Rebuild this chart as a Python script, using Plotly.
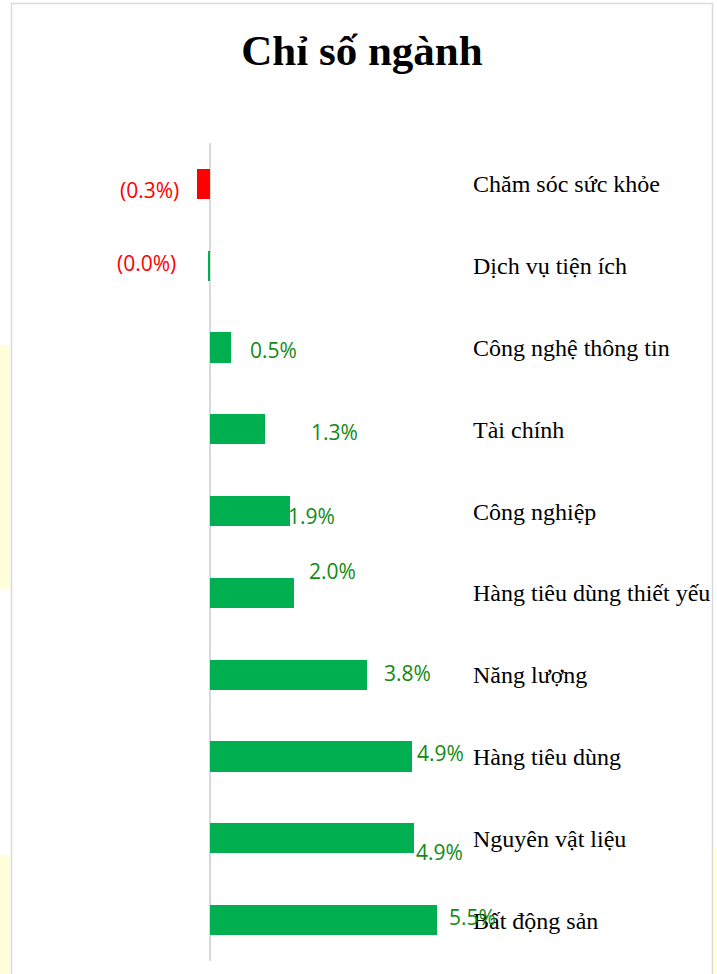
import plotly.graph_objects as go

# ---- data (top to bottom as shown) ----
categories = ["Chăm sóc sức khỏe", "Dịch vụ tiện ích", "Công nghệ thông tin", "Tài chính",
              "Công nghiệp", "Hàng tiêu dùng thiết yếu", "Năng lượng", "Hàng tiêu dùng",
              "Nguyên vật liệu", "Bất động sản"]
values = [-0.31, -0.025, 0.51, 1.33, 1.94, 2.04, 3.79, 4.90, 4.93, 5.50]
title_text = "Chỉ số ngành"

# ---- style ----
W, H = 717, 974
PL, PR, PT, PB = 12, 468, 143, 961   # plot area pixels
ZERO_PX, PX_PER_UNIT = 210, 41.3
x_min = -(ZERO_PX - PL) / PX_PER_UNIT
x_max = (PR - ZERO_PX) / PX_PER_UNIT

GREEN_BAR = "#00B050"
RED_BAR = "#FF0000"
GREEN_TXT = "#138A13"
RED_TXT = "#FF0000"

# label offsets (pixels) relative to the bar end (Excel labels were moved by hand)
label_dx = [-48, -62, 42, 70, 21, 38, 41, 28, 26, 35]
label_dy = [-6, 3, -2, -3, -5, 22, 2, 4, -14, 3]

bar_colors = [RED_BAR if v < -0.1 else GREEN_BAR for v in values]

def fmt(v):
    return f"({abs(v):.1f}%)" if v < 0 else f"{v:.1f}%"

fig = go.Figure()
fig.add_trace(go.Bar(
    x=values, y=categories, orientation="h",
    marker=dict(color=bar_colors, line=dict(width=0)),
    width=0.367, hoverinfo="skip", showlegend=False,
))

for c, v, dx, dy in zip(categories, values, label_dx, label_dy):
    fig.add_annotation(
        x=v, y=c, xref="x", yref="y", text=fmt(v), showarrow=False,
        xanchor="center", yanchor="middle", xshift=dx, yshift=dy,
        font=dict(family="Open Sans", size=21, color=RED_TXT if v < 0 else GREEN_TXT),
    )

def px2paper(px, py):
    return (px - PL) / (PR - PL), (PB - py) / (PB - PT)

shapes = []
# light yellow patches outside the chart frame
for (x0, y0, x1, y1) in [(0, 345, 10, 590), (0, 855, 10, 980), (714, 848, 720, 980)]:
    a0, b0 = px2paper(x0, y0)
    a1, b1 = px2paper(x1, y1)
    shapes.append(dict(type="rect", xref="paper", yref="paper", x0=a0, x1=a1, y0=b1, y1=b0,
                       fillcolor="#FFFFD9", line=dict(width=0), layer="below"))
# chart frame
a0, b0 = px2paper(11.5, 3.5)
a1, b1 = px2paper(712.5, 1000)
shapes.append(dict(type="rect", xref="paper", yref="paper", x0=a0, x1=a1, y0=b1, y1=b0,
                   fillcolor="rgba(0,0,0,0)", line=dict(color="#D9D9D9", width=1.5), layer="below"))

fig.update_layout(
    width=W, height=H,
    margin=dict(l=PL, r=W - PR, t=PT, b=H - PB, pad=0, autoexpand=False),
    paper_bgcolor="white", plot_bgcolor="white",
    title=dict(text=f"<b>{title_text}</b>", x=362 / W, xanchor="center",
               y=1 - 50 / H, yanchor="middle",
               font=dict(family="Liberation Serif", size=43, color="black")),
    xaxis=dict(range=[x_min, x_max], showgrid=False, showticklabels=False, ticks="",
               zeroline=True, zerolinecolor="#D9D9D9", zerolinewidth=2, showline=False,
               fixedrange=True, automargin=False),
    yaxis=dict(range=[len(categories) - 0.5, -0.5], side="right", showgrid=False, ticks="",
               showline=False, zeroline=False, ticklabelstandoff=4, fixedrange=True,
               automargin=False,
               tickfont=dict(family="Liberation Serif", size=24, color="black")),
    shapes=shapes,
    bargap=0,
)

fig.write_html(
    "out.html",
    config={"displayModeBar": False, "responsive": False},
    post_script="document.body.style.margin='0px';document.body.style.overflow='hidden';"
                "document.documentElement.style.overflow='hidden';",
)
